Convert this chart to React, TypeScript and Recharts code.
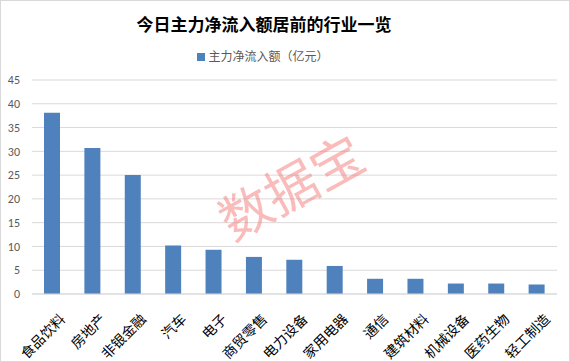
import React from "react";
import { BarChart, Bar, XAxis, YAxis, CartesianGrid } from "recharts";

const industries = [
  "食品饮料",
  "房地产",
  "非银金融",
  "汽车",
  "电子",
  "商贸零售",
  "电力设备",
  "家用电器",
  "通信",
  "建筑材料",
  "机械设备",
  "医药生物",
  "轻工制造",
];
const netInflow = [38.1, 30.7, 25.0, 10.2, 9.3, 7.8, 7.2, 5.9, 3.2, 3.2, 2.2, 2.2, 2.0];
const yTicks = [0, 5, 10, 15, 20, 25, 30, 35, 40, 45];

const data = industries.map((name, i) => ({ name, value: netInflow[i] }));

const BAR_COLOR = "#4F81BD";
const CJK = '"Noto Sans CJK SC", "Noto Sans", sans-serif';

const RotatedTick = ({ x, y, payload }: any) => (
  <g transform={`translate(${x + 5},${y + 9})`}>
    <text
      transform="rotate(-45)"
      textAnchor="end"
      dominantBaseline="hanging"
      fontSize={14}
      fontFamily={CJK}
      fill="#000"
    >
      {payload.value}
    </text>
  </g>
);

export default function App() {
  return (
    <div
      style={{
        position: "absolute",
        top: 0,
        left: 0,
        width: 570,
        height: 362,
        boxSizing: "border-box",
        border: "1px solid #D9D9D9",
        background: "#fff",
        overflow: "hidden",
      }}
    >
      <div
        style={{
          position: "absolute",
          top: 10,
          left: 0,
          width: 526,
          textAlign: "center",
          fontFamily: CJK,
          fontWeight: 700,
          fontSize: 17,
          color: "#000",
        }}
      >
        今日主力净流入额居前的行业一览
      </div>
      <div
        style={{
          position: "absolute",
          top: 46,
          left: 0,
          width: 524,
          textAlign: "center",
          fontFamily: CJK,
          fontSize: 12,
          color: "#595959",
        }}
      >
        <span
          style={{
            display: "inline-block",
            width: 8,
            height: 8,
            background: BAR_COLOR,
            marginRight: 3,
          }}
        />
        主力净流入额（亿元）
      </div>
      <BarChart
        width={570}
        height={362}
        data={data}
        margin={{ top: 80, right: 13, bottom: 8, left: 0 }}
        style={{ position: "absolute", top: -1, left: -1 }}
      >
        <CartesianGrid vertical={false} stroke="#D9D9D9" />
        <XAxis
          dataKey="name"
          interval={0}
          height={60}
          tickLine={false}
          axisLine={{ stroke: "#D9D9D9" }}
          tick={<RotatedTick />}
        />
        <YAxis
          width={32}
          domain={[0, 45]}
          ticks={yTicks}
          axisLine={false}
          tickLine={false}
          tickMargin={6}
          tick={{ fontSize: 12, fill: "#595959", fontFamily: "Calibri, Carlito, 'Liberation Sans', sans-serif" }}
        />
        <Bar dataKey="value" fill={BAR_COLOR} barSize={16} isAnimationActive={false} />
      </BarChart>
      <div
        style={{
          position: "absolute",
          left: 289,
          top: 184,
          fontFamily: CJK,
          fontSize: 52,
          lineHeight: 1,
          color: "rgba(245, 120, 120, 0.5)",
          transform: "translate(-50%, -50%) rotate(-29deg)",
          pointerEvents: "none",
          whiteSpace: "nowrap",
        }}
      >
        数据宝
      </div>
    </div>
  );
}
